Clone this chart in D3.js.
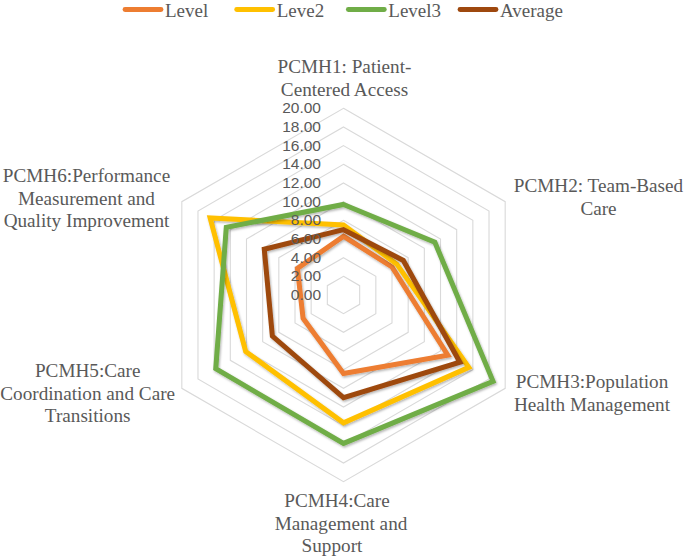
<!DOCTYPE html>
<html>
<head>
<meta charset="utf-8">
<script src="https://cdn.jsdelivr.net/npm/d3@7"></script>
<style>
  html, body { margin: 0; padding: 0; background: #fff; }
  svg { display: block; }
</style>
</head>
<body>
<div id="chart"></div>
<script>
// ---- data ----
const categories = [
  "PCMH1: Patient-Centered Access",
  "PCMH2: Team-Based Care",
  "PCMH3:Population Health Management",
  "PCMH4:Care Management and Support",
  "PCMH5:Care Coordination and Care Transitions",
  "PCMH6:Performance Measurement and Quality Improvement"
];
const seriesNames = ["Level", "Leve2", "Level3", "Average"];
const level1 = [6.3, 6.0, 12.9, 8.4, 5.0, 5.7];
const level2 = [7.5, 6.6, 15.5, 13.7, 12.1, 16.5];
const level3 = [9.7, 11.3, 18.5, 15.9, 15.8, 14.5];
const average = [7.0, 7.4, 14.4, 11.0, 8.8, 9.8];
const tickValues = [0, 2, 4, 6, 8, 10, 12, 14, 16, 18, 20];

// ---- layout / style ----
const W = 685, H = 556;
const cx = 343.5, cy = 295, R = 186.7;
const colors = ["#ED7D31", "#FFC000", "#70AD47", "#9E480E"];
const textColor = "#595959";
const seriesData = [level1, level2, level3, average];

// label line layout (wrapped lines, centre x, first baseline)
const labelLayout = [
  { lines: ["PCMH1: Patient-", "Centered Access"], x: [344.5, 344.5], y: 73 },
  { lines: ["PCMH2: Team-Based", "Care"], x: [598.5, 598.5], y: 192 },
  { lines: ["PCMH3:Population", "Health Management"], x: [592, 592], y: 388 },
  { lines: ["PCMH4:Care", "Management and", "Support"], x: [337, 341, 332], y: 507 },
  { lines: ["PCMH5:Care", "Coordination and Care", "Transitions"], x: [87.7, 87.7, 87.7], y: 377 },
  { lines: ["PCMH6:Performance", "Measurement and", "Quality Improvement"], x: [86.5, 86.5, 86.5], y: 182 }
];
const lineGap = 22.5;

const svg = d3.select("#chart").append("svg")
  .attr("width", W).attr("height", H);

const defs = svg.append("defs");
const f = defs.append("filter").attr("id", "shadow")
  .attr("x", "-10%").attr("y", "-10%").attr("width", "120%").attr("height", "120%");
f.append("feDropShadow").attr("dx", 1).attr("dy", 1.5).attr("stdDeviation", 1.2)
  .attr("flood-color", "#000").attr("flood-opacity", 0.3);

const r = d3.scaleLinear().domain([0, 20]).range([0, R]);
const angle = d3.scaleLinear().domain([0, categories.length]).range([0, 2 * Math.PI]);

const g = svg.append("g").attr("transform", `translate(${cx},${cy})`);

// grid rings
const ring = d3.lineRadial().angle((d, i) => angle(i)).radius(d => r(d)).curve(d3.curveLinearClosed);
g.append("g").selectAll("path")
  .data(tickValues.filter(v => v > 0))
  .join("path")
  .attr("d", v => ring(categories.map(() => v)))
  .attr("fill", "none")
  .attr("stroke", "#D9D9D9")
  .attr("stroke-width", 1.1);

// series lines
const radar = d3.lineRadial().angle((d, i) => angle(i)).radius(d => r(d)).curve(d3.curveLinearClosed);
g.append("g").selectAll("path")
  .data(seriesData)
  .join("path")
  .attr("d", d => radar(d))
  .attr("fill", "none")
  .attr("stroke", (d, i) => colors[i])
  .attr("stroke-width", 5)
  .attr("stroke-linejoin", "miter")
  .attr("filter", "url(#shadow)");

// tick labels
g.append("g").selectAll("text")
  .data(tickValues)
  .join("text")
  .attr("x", -22.5)
  .attr("y", v => -r(v) + 1)
  .attr("text-anchor", "end")
  .attr("dominant-baseline", "middle")
  .attr("font-family", "'Liberation Sans', Arial, sans-serif")
  .attr("font-size", 15.5)
  .attr("fill", textColor)
  .text(v => d3.format(".2f")(v));

// category labels
const lab = svg.append("g")
  .attr("font-family", "'Liberation Serif', 'Times New Roman', serif")
  .attr("font-size", 19.2)
  .attr("fill", textColor)
  .attr("text-anchor", "middle");
labelLayout.forEach((L, i) => {
  const t = lab.append("text").datum(categories[i]);
  L.lines.forEach((line, j) => {
    t.append("tspan").attr("x", L.x[j]).attr("y", L.y + j * lineGap).text(line);
  });
});

// legend
const legendX = d3.scalePoint().domain(seriesNames).range([123, 458]);
const lg = svg.append("g").selectAll("g")
  .data(seriesNames)
  .join("g")
  .attr("transform", d => `translate(${legendX(d)},0)`);
lg.append("line")
  .attr("x1", 2).attr("x2", 38).attr("y1", 9.5).attr("y2", 9.5)
  .attr("stroke", (d, i) => colors[i])
  .attr("stroke-width", 4.8)
  .attr("stroke-linecap", "round");
lg.append("text")
  .attr("x", 42).attr("y", 16.8)
  .attr("font-family", "'Liberation Serif', 'Times New Roman', serif")
  .attr("font-size", 19)
  .attr("fill", textColor)
  .text(d => d);
</script>
</body>
</html>
